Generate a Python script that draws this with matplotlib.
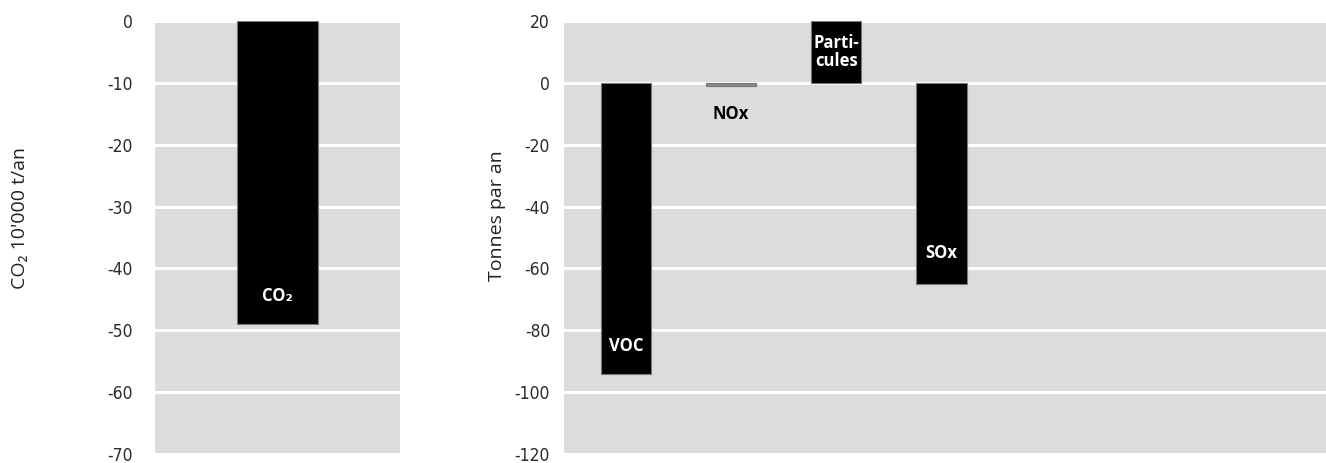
import matplotlib
matplotlib.use('Agg')
import matplotlib.pyplot as plt
import numpy as np

# left panel: CO2 (10'000 t/an)
co2_value = [-49]
co2_ticks = [0, -10, -20, -30, -40, -50, -60, -70]

# right panel: other pollutants (tonnes par an)
pollutants = ['VOC', 'NOx', 'Parti-\ncules', 'SOx']
pollutant_values = [-94, -1, 20, -65]
pollutant_ticks = [20, 0, -20, -40, -60, -80, -100, -120]

plt.rcParams['axes.unicode_minus'] = False
bg = '#dcdcdc'
label_font = ['Open Sans', 'DejaVu Sans']

fig = plt.figure(figsize=(13.26, 4.63), dpi=100)
ax1 = fig.add_axes([155/1326, 9/463, 245/1326, 433/463])
ax2 = fig.add_axes([564/1326, 9/463, 762/1326, 433/463])

for ax in (ax1, ax2):
    ax.set_facecolor(bg)
    for s in ax.spines.values():
        s.set_visible(False)
    ax.tick_params(length=0, labelsize=12.5, labelcolor='#2a2a2a')
    ax.set_xticks([])
    ax.set_axisbelow(True)
    ax.yaxis.grid(True, color='white', linewidth=2.2)

# CO2
ax1.bar([0], co2_value, width=0.5, color='black', edgecolor='#777777', linewidth=0.8)
ax1.set_xlim(-0.75, 0.75)
ax1.set_ylim(-70, 0)
ax1.set_yticks(co2_ticks)
ax1.tick_params(pad=16)
ax1.text(0, co2_value[0] + 4.5, 'CO₂', color='white', fontsize=12, fontweight='bold',
         family=label_font, ha='center', va='center')
fig.text(20/1326, 0.53, "CO₂ 10'000 t/an", rotation=90, fontsize=14, color='#222222',
         family=label_font, ha='center', va='center')

# other pollutants
x = np.arange(len(pollutants))
colors = ['black', '#8a8a8a', 'black', 'black']
ax2.bar(x, pollutant_values, width=0.48, color=colors, edgecolor='#777777', linewidth=0.8)
ax2.set_xlim(-0.59, 6.66)
ax2.set_ylim(-120, 20)
ax2.set_yticks(pollutant_ticks)
ax2.tick_params(pad=10)

label_y = [-85, -10, 10, -55]
label_col = ['white', 'black', 'white', 'white']
for xi, name, ly, c in zip(x, pollutants, label_y, label_col):
    ax2.text(xi, ly, name, color=c, fontsize=12, fontweight='bold', family=label_font,
             ha='center', va='center', linespacing=0.95)
fig.text(497/1326, 0.535, 'Tonnes par an', rotation=90, fontsize=14, color='#222222',
         family=label_font, ha='center', va='center')

for ax in (ax1, ax2):
    for lab in ax.get_yticklabels():
        lab.set_family('DejaVu Sans')
        lab.set_stretch('condensed')

plt.savefig('out.png', dpi=100)
